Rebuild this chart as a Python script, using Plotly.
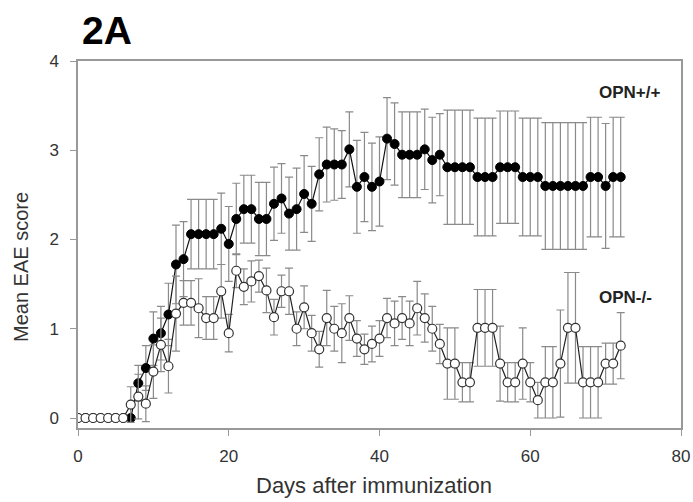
import plotly.graph_objects as go

days = list(range(0, 73))

wt_mean = [0, 0, 0, 0, 0, 0, 0, 0, 0.39, 0.56, 0.89, 0.95, 1.16, 1.72, 1.78,
           2.06, 2.06, 2.06, 2.06, 2.12, 1.95, 2.23, 2.34, 2.34, 2.23, 2.23,
           2.40, 2.46, 2.29, 2.34, 2.51, 2.40, 2.73, 2.84, 2.84, 2.84, 3.01,
           2.59, 2.70, 2.59, 2.65, 3.13, 3.07, 2.95, 2.95, 2.95, 3.01, 2.89,
           2.95, 2.81, 2.81, 2.81, 2.81, 2.70, 2.70, 2.70, 2.81, 2.81, 2.81,
           2.70, 2.70, 2.70, 2.60, 2.60, 2.60, 2.60, 2.60, 2.60, 2.70, 2.70,
           2.60, 2.70, 2.70]
wt_err = [0, 0, 0, 0, 0, 0, 0, 0, 0.2, 0.25, 0.3, 0.3, 0.35, 0.44, 0.42,
          0.39, 0.39, 0.39, 0.39, 0.40, 0.42, 0.40, 0.38, 0.38, 0.41, 0.41,
          0.41, 0.39, 0.41, 0.46, 0.43, 0.42, 0.41, 0.42, 0.40, 0.38, 0.42,
          0.52, 0.50, 0.49, 0.50, 0.46, 0.46, 0.48, 0.48, 0.48, 0.45, 0.48,
          0.46, 0.64, 0.64, 0.64, 0.64, 0.66, 0.66, 0.66, 0.63, 0.63, 0.63,
          0.66, 0.66, 0.66, 0.71, 0.71, 0.71, 0.71, 0.71, 0.71, 0.67, 0.67,
          0.70, 0.67, 0.67]

ko_mean = [0, 0, 0, 0, 0, 0, 0, 0.15, 0.24, 0.16, 0.52, 0.82, 0.58, 1.17, 1.29,
           1.29, 1.23, 1.12, 1.12, 1.42, 0.95, 1.65, 1.47, 1.53, 1.59, 1.43,
           1.13, 1.42, 1.42, 1.00, 1.24, 0.95, 0.77, 1.12, 1.00, 0.95, 1.12,
           0.89, 0.77, 0.83, 0.89, 1.12, 1.06, 1.12, 1.06, 1.23, 1.12, 1.00,
           0.83, 0.61, 0.61, 0.40, 0.40, 1.01, 1.01, 1.01, 0.61, 0.40, 0.40,
           0.61, 0.40, 0.20, 0.40, 0.40, 0.61, 1.01, 1.01, 0.40, 0.40, 0.40,
           0.61, 0.61, 0.81]
ko_err = [0, 0, 0, 0, 0, 0, 0, 0.2, 0.25, 0.2, 0.3, 0.3, 0.3, 0.42, 0.25,
          0.25, 0.33, 0.24, 0.24, 0.3, 0.21, 0.19, 0.2, 0.23, 0.18, 0.25,
          0.2, 0.18, 0.26, 0.19, 0.24, 0.2, 0.2, 0.31, 0.25, 0.33, 0.25,
          0.2, 0.17, 0.2, 0.2, 0.22, 0.25, 0.24, 0.25, 0.3, 0.27, 0.25,
          0.22, 0.4, 0.4, 0.22, 0.22, 0.43, 0.43, 0.43, 0.42, 0.22, 0.22,
          0.4, 0.22, 0.2, 0.4, 0.4, 0.6, 0.62, 0.62, 0.4, 0.4, 0.4,
          0.23, 0.23, 0.37]

x_ticks = [0, 20, 40, 60, 80]
y_ticks = [0, 1, 2, 3, 4]

FONT = "Liberation Sans, Arial, sans-serif"

# plot area in pixels
L, R, T, B = 78, 681, 61, 428
W, H = 693, 502


def px(xp):
    return (xp - L) / (R - L)


def py(yp):
    return (B - yp) / (B - T)


fig = go.Figure()
fig.add_trace(go.Scatter(
    x=days, y=wt_mean, mode="lines+markers", name="OPN+/+",
    line=dict(color="#111111", width=1.2),
    marker=dict(symbol="circle", size=9, color="#000000",
                line=dict(color="#000000", width=1)),
    error_y=dict(type="data", array=wt_err, visible=True,
                 color="#8a8a8a", thickness=1.2, width=4),
))
fig.add_trace(go.Scatter(
    x=days, y=ko_mean, mode="lines+markers", name="OPN-/-",
    line=dict(color="#222222", width=1.2),
    marker=dict(symbol="circle", size=9, color="#ffffff",
                line=dict(color="#333333", width=1.2)),
    error_y=dict(type="data", array=ko_err, visible=True,
                 color="#8a8a8a", thickness=1.2, width=4),
))

ann_font = dict(family=FONT, color="#222222", size=17)
fig.add_annotation(xref="paper", yref="paper", x=px(597), y=py(92),
                   xanchor="left", yanchor="middle", text="<b>OPN+/+</b>",
                   showarrow=False, font=ann_font)
fig.add_annotation(xref="paper", yref="paper", x=px(597), y=py(297),
                   xanchor="left", yanchor="middle", text="<b>OPN-/-</b>",
                   showarrow=False, font=ann_font)
fig.add_annotation(xref="paper", yref="paper", x=px(80), y=py(31),
                   xanchor="left", yanchor="middle", text="<b>2A</b>",
                   showarrow=False,
                   font=dict(family=FONT, color="#000000", size=39))
fig.add_annotation(xref="paper", yref="paper", x=px(374), y=py(486),
                   xanchor="center", yanchor="middle",
                   text="Days after immunization", showarrow=False,
                   font=dict(family=FONT, color="#333333", size=22))
fig.add_annotation(xref="paper", yref="paper", x=px(21), y=py(267),
                   xanchor="center", yanchor="middle", textangle=-90,
                   text="Mean EAE score", showarrow=False,
                   font=dict(family=FONT, color="#333333", size=20))

axis_common = dict(ticks="outside", ticklen=6, tickcolor="#999999",
                   showline=True, linecolor="#999999", linewidth=1.5,
                   mirror=True, showgrid=False, zeroline=False,
                   automargin=False,
                   tickfont=dict(family=FONT, size=17, color="#333333"))

fig.update_layout(
    width=W, height=H,
    margin=dict(l=L, r=W - R, t=T, b=H - B, autoexpand=False),
    plot_bgcolor="white", paper_bgcolor="white",
    showlegend=False,
    font=dict(family=FONT, color="#333333", size=14),
    xaxis=dict(range=[0, 80], tickvals=x_ticks, ticklabelstandoff=6,
               **axis_common),
    yaxis=dict(range=[-0.112, 4], tickvals=y_ticks, ticklabelstandoff=8,
               **axis_common),
)

fig.write_html("out.html")
